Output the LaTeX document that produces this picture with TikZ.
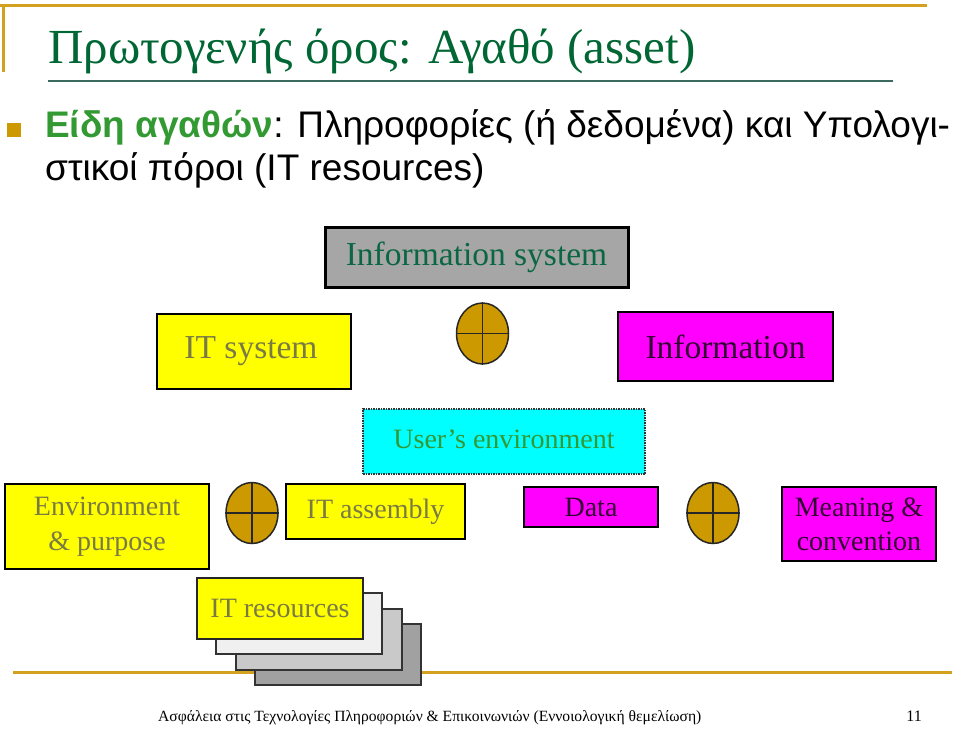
\documentclass[tikz,border=0pt]{standalone}
\usepackage{fontspec}
\setmainfont{Liberation Serif}
\setsansfont{Liberation Sans}
\usepackage{tikz}
\usetikzlibrary{shapes.geometric, positioning}
\definecolor{gold}{HTML}{D4A020}
\definecolor{titlegreen}{HTML}{006633}
\definecolor{ruleteal}{HTML}{3A6B5E}
\definecolor{bulgreen}{HTML}{339933}
\definecolor{olivetxt}{HTML}{7A7A45}
\definecolor{boxgray}{HTML}{A6A6A6}
\definecolor{sysgreen}{HTML}{0B6644}
\definecolor{plumtxt}{HTML}{330033}
\definecolor{ochre}{HTML}{CC9900}
\definecolor{boxyellow}{HTML}{FFFF00}
\definecolor{boxmagenta}{HTML}{FF00FF}
\definecolor{boxcyan}{HTML}{00FFFF}

\begin{document}
\begin{tikzpicture}[
  x=1pt, y=-1pt,
  ybox/.style={rectangle, draw=black, line width=2.5pt, fill=boxyellow,
               text=olivetxt, inner sep=0pt, align=center,
               font=\fontsize{28}{35}\selectfont},
  mbox/.style={rectangle, draw=black, line width=2.5pt, fill=boxmagenta,
               text=plumtxt, inner sep=0pt, align=center,
               font=\fontsize{28}{34}\selectfont},
  bigfont/.style={font=\fontsize{33.5}{40}\selectfont},
  andop/.style={ellipse, draw=black!85, line width=1.5pt, fill=ochre,
                minimum width=52pt, minimum height=61pt, inner sep=0pt},
  cross/.style={draw=black!85, line width=1.5pt},
  stackbox/.style={rectangle, draw=black!80, line width=2pt,
                   minimum width=166pt, minimum height=61pt, inner sep=0pt}
]
\useasboundingbox (0,0) rectangle (960,728);

% slide frame
\draw[gold, line width=3pt] (0,5) -- (927,5);
\draw[gold, line width=3pt] (3,5) -- (3,72);
\draw[ruleteal, line width=2.5pt] (48,81) -- (893,81);
\draw[gold, line width=3pt] (13,672) -- (952,672);

\node[anchor=base west, inner sep=0pt, text=titlegreen,
      font=\fontsize{49}{58}\selectfont] (title) at (48,63)
  {Πρωτογενής όρος: Αγαθό (asset)};
\node[fill=ochre, minimum size=14pt, inner sep=0pt] (bsq) at (14,130) {};
\node[anchor=base west, inner sep=0pt,
      font=\sffamily\fontsize{37}{44}\selectfont] (bul1) at (45,137)
  {\textbf{\color{bulgreen}Είδη αγαθών}: Πληροφορίες (ή δεδομένα) και Υπολογι-};
\node[anchor=base west, inner sep=0pt,
      font=\sffamily\fontsize{37}{44}\selectfont] (bul2) at (45,180)
  {στικοί πόροι (IT resources)};

% top level
\node[rectangle, draw=black, line width=3pt, fill=boxgray, text=sysgreen,
      bigfont, minimum width=303pt, minimum height=60pt] (infosys)
  at (476.5,257) {Information system\hspace{14pt}};
\node[ybox, bigfont, minimum width=194pt, minimum height=75pt] (itsys)
  at (254,351.5) {IT system\hspace{6pt}};
\node[andop] (op1) at (482.5,333.5) {};
\node[mbox, bigfont, minimum width=215pt, minimum height=69pt] (info)
  at (725.5,346.5) {Information};

% environment level
\node[rectangle, draw=black!80, line width=1.5pt, densely dotted, fill=boxcyan,
      text=bulgreen, font=\fontsize{28}{34}\selectfont,
      minimum width=282pt, minimum height=65pt] (userenv)
  at (504,441.5) {\raisebox{4pt}{User’s environment}};
\node[ybox, minimum width=204pt, minimum height=85pt] (envpurp)
  at (107,526.5) {Environment\\\& purpose};
\node[andop] (op2) at (252,513) {};
\node[ybox, minimum width=179pt, minimum height=55pt] (itasm)
  at (375.5,511.5) {IT assembly};
\node[mbox, minimum width=134pt, minimum height=40pt] (data)
  at (591,507) {Data};
\node[andop] (op3) at (713,513) {};
\node[mbox, minimum width=154pt, minimum height=74pt] (meaning)
  at (859,524) {Meaning \&\\convention};

\draw[cross] (op1.north) -- (op1.south); \draw[cross] (op1.west) -- (op1.east);
\draw[cross] (op2.north) -- (op2.south); \draw[cross] (op2.west) -- (op2.east);
\draw[cross] (op3.north) -- (op3.south); \draw[cross] (op3.west) -- (op3.east);

% resource stack
\node[stackbox, fill=black!37] (res4) at (337.5,654.5) {};
\node[stackbox, fill=black!21] (res3) at (318.5,639) {};
\node[stackbox, fill=black!6] (res2) at (299,623.5) {};
\node[ybox, stackbox, draw=black!85] (itres) at (280,608.5) {IT resources};

% footer
\node[anchor=base west, inner sep=0pt, font=\fontsize{15.6}{20}\selectfont] (foot)
  at (158,721) {Ασφάλεια στις Τεχνολογίες Πληροφοριών \& Επικοινωνιών (Εννοιολογική θεμελίωση)};
\node[anchor=base east, inner sep=0pt, font=\fontsize{16}{20}\selectfont] (pageno)
  at (922,721) {11};
\end{tikzpicture}
\end{document}
